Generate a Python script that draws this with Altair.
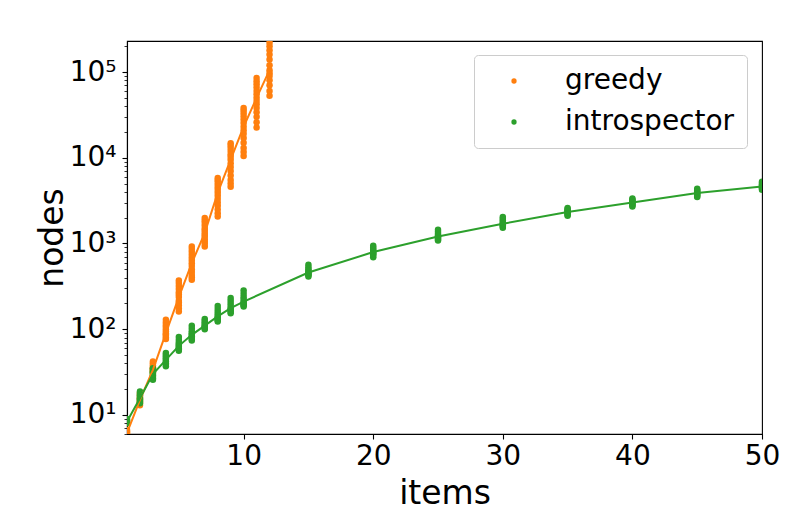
import altair as alt
import pandas as pd

# ---- data ----
greedy_x = [1, 2, 3, 4, 5, 6, 7, 8, 9, 10, 11, 12]
greedy_samples = [
    [6.0, 6.2, 6.4, 6.7],
    [13, 13.5, 14, 14.5, 15, 15.5, 16, 17, 18],
    [31, 32, 33, 34, 35, 36, 38, 40, 42],
    [77, 80, 84, 87, 90, 95, 100, 106, 112, 120, 129],
    [161, 175, 190, 205, 215, 237, 255, 270, 295, 320, 345, 370],
    [377, 405, 430, 465, 500, 545, 590, 635, 680, 740, 800, 860, 920],
    [920, 990, 1050, 1120, 1200, 1260, 1330, 1420, 1500, 1620, 1750, 1860, 1980],
    [2070, 2250, 2500, 2750, 3000, 3300, 3600, 3900, 4200, 4500, 4850, 5200, 5500, 5800],
    [4600, 5000, 5500, 6200, 7000, 7800, 8600, 9500, 10300, 11000, 12000, 13000, 13900, 14800],
    [10500, 11700, 13000, 15000, 17000, 19000, 21000, 23000, 25500, 28000, 30500, 33000, 35500, 38000],
    [22600, 26000, 30000, 34000, 38000, 42000, 46000, 50000, 55000, 60000, 66000, 72000, 78000, 85000],
    [53000, 60000, 70000, 80000, 90000, 97000, 105000, 120000, 140000, 160000, 180000, 200000,
     220000, 240000, 260000],
]
greedy_line = [6.2, 15, 33.6, 90, 237, 590, 1330, 3900, 9500, 23000, 50000, 105000]

intro_x = [1, 2, 3, 4, 5, 6, 7, 8, 9, 10, 15, 20, 25, 30, 35, 40, 45, 50]
intro_samples = [
    [8.0, 8.4, 8.7, 9.0],
    [13.7, 14.2, 14.8, 15.3, 15.7, 16.3, 17, 17.8, 18.8],
    [25.7, 26.8, 28, 29, 30, 31, 32, 33.5, 35],
    [37, 38.5, 40, 42, 44, 46, 48, 50.5, 53],
    [56, 58, 60, 62, 64, 67, 70, 75, 81],
    [74, 77, 80, 83, 86, 90, 95, 102, 110],
    [100, 102.5, 105, 107.5, 110, 115, 120, 126, 132],
    [123, 127, 132, 136, 141, 150, 160, 172, 187],
    [154, 160, 165, 170, 176, 187, 200, 215, 231],
    [184, 190, 195, 202, 210, 225, 240, 260, 283],
    [412, 425, 440, 450, 459, 480, 500, 530, 564],
    [693, 720, 750, 772, 794, 820, 850, 890, 940],
    [1084, 1115, 1150, 1180, 1207, 1250, 1300, 1370, 1445],
    [1524, 1570, 1620, 1660, 1700, 1770, 1850, 1940, 2032],
    [2100, 2165, 2230, 2280, 2323, 2390, 2450, 2520, 2590],
    [2700, 2780, 2850, 2920, 3000, 3080, 3150, 3250, 3350],
    [3475, 3590, 3700, 3790, 3870, 3980, 4100, 4220, 4345],
    [4236, 4340, 4450, 4540, 4624, 4760, 4900, 5070, 5250],
]
intro_line = [8.4, 15.7, 30, 44, 64, 86, 110, 141, 176, 210, 459, 794, 1207, 1700, 2323, 3000, 3870, 4624]

methods = ["greedy", "introspector"]
colors = ["#ff7f0e", "#2ca02c"]
x_ticks = [10, 20, 30, 40, 50]
y_domain = [6.0, 230000]

# ---- tables ----
pt_rows = []
for x, vals in zip(greedy_x, greedy_samples):
    for v in vals:
        pt_rows.append({"items": x, "nodes": v, "method": "greedy"})
for x, vals in zip(intro_x, intro_samples):
    for v in vals:
        pt_rows.append({"items": x, "nodes": v, "method": "introspector"})
pts = pd.DataFrame(pt_rows)

ln_rows = [{"items": x, "nodes": v, "method": "greedy"} for x, v in zip(greedy_x, greedy_line)]
ln_rows += [{"items": x, "nodes": v, "method": "introspector"} for x, v in zip(intro_x, intro_line)]
lines = pd.DataFrame(ln_rows)

y_tick_values = [m * 10 ** k for k in range(0, 6) for m in range(1, 10)
                 if y_domain[0] <= m * 10 ** k <= y_domain[1]]

FONT = "DejaVu Sans"
major = "abs(log(datum.value)/LN10 - round(log(datum.value)/LN10)) < 0.001"
label_expr = ("(" + major + ") ? '10' + substring('\u2070\u00b9\u00b2\u00b3\u2074\u2075\u2076\u2077\u2078\u2079', "
              "round(log(datum.value)/LN10), round(log(datum.value)/LN10) + 1) : ''")

x_enc = alt.X(
    "items:Q",
    scale=alt.Scale(domain=[1, 50], nice=False, zero=False),
    axis=alt.Axis(values=x_ticks, title="items", grid=False, labelFontSize=28, labelFont=FONT,
                  labelColor="black", tickSize=5, tickWidth=1.1, tickColor="black",
                  domainColor="black", domainWidth=1.1, labelPadding=3, labelFlush=False,
                  titleFontSize=33, titleFont=FONT, titleFontWeight="normal", titleColor="black",
                  titleBaseline="alphabetic", titleY=69),
)
y_enc = alt.Y(
    "nodes:Q",
    scale=alt.Scale(type="log", domain=y_domain, nice=False),
    axis=alt.Axis(values=y_tick_values, labelExpr=label_expr, title="nodes", grid=False,
                  labelOverlap=False, labelFlush=False, labelFontSize=28, labelFont=FONT,
                  labelColor="black", labelPadding=6,
                  tickSize={"condition": {"test": major, "value": 5}, "value": 3},
                  tickWidth={"condition": {"test": major, "value": 1.1}, "value": 0.8},
                  tickColor="black", domainColor="black", domainWidth=1.1,
                  titleFontSize=33, titleFont=FONT, titleFontWeight="normal", titleColor="black",
                  titleBaseline="alphabetic", titleX=-65, titleAngle=-90),
)

color_scale = alt.Scale(domain=methods, range=colors)

points = alt.Chart(pts).mark_circle(size=42, opacity=1, clip=True).encode(
    x=x_enc,
    y=y_enc,
    color=alt.Color("method:N", scale=color_scale,
                    legend=alt.Legend(title=None, orient="none", legendX=347, legendY=14,
                                      padding=12, strokeColor="#cccccc", fillColor="white",
                                      cornerRadius=4, labelFontSize=28, labelFont=FONT,
                                      labelColor="black", labelLimit=400, symbolType="circle",
                                      symbolSize=28, symbolOffset=14, labelOffset=37,
                                      rowPadding=13, symbolStrokeWidth=0)),
)

line = alt.Chart(lines).mark_line(strokeWidth=2, clip=True).encode(
    x=x_enc,
    y=y_enc,
    color=alt.Color("method:N", scale=color_scale, legend=None),
)

chart = alt.layer(points, line).properties(
    width=635, height=393,
    autosize=alt.AutoSizeParams(type="none"),
    padding={"left": 119, "top": 33, "right": 23, "bottom": 80},
).configure_view(stroke="black", strokeWidth=1.1)

chart.save("out.html", embed_options={"renderer": "svg", "actions": False})
